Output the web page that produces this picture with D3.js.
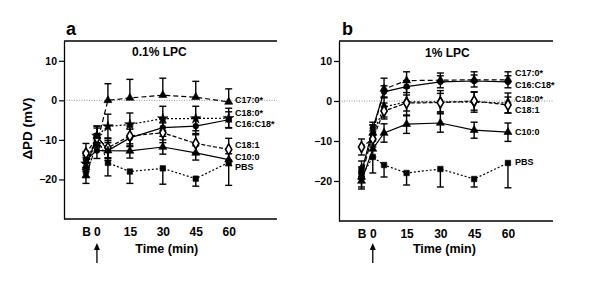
<!DOCTYPE html>
<html><head><meta charset="utf-8">
<script src="https://cdnjs.cloudflare.com/ajax/libs/d3/7.8.5/d3.min.js"></script>
<style>body{margin:0;background:#fff}svg{display:block;font-family:"Liberation Sans",Arial,sans-serif;font-weight:bold}</style>
</head><body><svg id="c" width="600" height="281"></svg>
<script>
// ---- data ----
const times = [-5, 0, 5, 15, 30, 45, 60];
const xTickValues = [-5, 0, 15, 30, 45, 60];
const xTickLabels = ["B", "0", "15", "30", "45", "60"];
const yTicks = [-20, -10, 0, 10];
const seriesNames = ["C17:0*", "C18:0*", "C16:C18*", "C18:1", "C10:0", "PBS"];
const panelTitles = ["0.1% LPC", "1% LPC"];
const panelLetters = ["a", "b"];

// panel a (0.1% LPC)
const aC17 = [-19, -11, 0, 0.6, 1.3, 0.8, -0.4];
const aC18_0 = [-16, -9, -6.6, -6.1, -4.6, -4.6, -4.5];
const aC16C18 = [-15, -12.7, -12.7, -9.5, -6.9, -6.5, -4.9];
const aC18_1 = [-13.4, -9.5, -12, -9, -8.2, -10.9, -12.4];
const aC10 = [-17, -9, -12.7, -12.8, -11.8, -13.3, -15];
const aPBS = [-18, -9, -15.8, -18, -17.2, -19.8, -15.7];
const aErrC17 = [2, 2.5, 4.2, 4.7, 4.3, 4.0, 3.3];
const aErrC18_0 = [2, 2.5, 3.1, 2.9, 3.1, 3.1, 2.5];
const aErrC16C18 = [2, 2, 2.5, 2.2, 2.2, 2.2, 2.0];
const aErrC18_1 = [2.5, 2.5, 2.5, 2.5, 2.5, 2.5, 2.8];
const aErrC10 = [2.5, 2.5, 2, 1.8, 1.8, 1.8, 1.5];
const aErrPBS = [3, 2.5, 3.3, 3, 4, 1.9, 5.8];

// panel b (1% LPC)
const bC17 = [-19, -8, 3, 5.1, 5.2, 5.3, 5.3];
const bC18_0 = [-17, -8.5, -1.5, -0.2, -0.2, -0.3, -0.5];
const bC16C18 = [-18, -6.8, 2.3, 3.6, 4.8, 5, 4.8];
const bC18_1 = [-11.5, -9.5, -2.5, -0.5, -0.4, 0, -1];
const bC10 = [-20, -12, -8, -5.8, -5.5, -7.3, -7.8];
const bPBS = [-19, -14, -16, -18, -17, -19.5, -15.5];
const bErrC17 = [1.5, 2, 2.7, 2.2, 1.8, 2, 2];
const bErrC18_0 = [2, 2.5, 2.5, 3.5, 2.8, 2.5, 2.5];
const bErrC16C18 = [1.5, 1.5, 1.5, 1.5, 1.5, 1.5, 1.5];
const bErrC18_1 = [2, 2, 2, 2, 2.3, 2.3, 2];
const bErrC10 = [2, 2, 2.3, 2.3, 2.3, 2, 2.3];
const bErrPBS = [2.5, 4, 3, 3, 4.5, 2, 6.2];

// ---- styles ----
const styleOf = {
  "C17:0*":   {dash: "5,3", sym: d3.symbolTriangle, size: 28, fill: "#000", err: "up"},
  "C18:0*":   {dash: "2,2", sym: d3.symbolStar, size: 34, fill: "#000", err: "both"},
  "C16:C18*": {dash: null, sym: d3.symbolCircle, size: 26, fill: "#000", err: "both"},
  "C18:1":    {dash: "4,2", sym: d3.symbolDiamond, size: 34, fill: "#fff", err: "both"},
  "C10:0":    {dash: null, sym: d3.symbolTriangle, size: 28, fill: "#000", err: "both"},
  "PBS":      {dash: "2,2", sym: d3.symbolSquare, size: 30, fill: "#000", err: "down"}
};

const panels = [
  {xDomain: [-15, 82], xRange: [64, 277], yRange: [219, 41], labelX: 235, yLabel: true,
   vals: [aC17, aC18_0, aC16C18, aC18_1, aC10, aPBS],
   errs: [aErrC17, aErrC18_0, aErrC16C18, aErrC18_1, aErrC10, aErrPBS],
   labelY: {"C17:0*": 100, "C18:0*": 112.5, "C16:C18*": 124, "C18:1": 145, "C10:0": 156.5, "PBS": 167},
   syms: {}},
  {xDomain: [-15, 80], xRange: [339, 553], yRange: [221, 41], labelX: 515, yLabel: false,
   vals: [bC17, bC18_0, bC16C18, bC18_1, bC10, bPBS],
   errs: [bErrC17, bErrC18_0, bErrC16C18, bErrC18_1, bErrC10, bErrPBS],
   labelY: {"C17:0*": 73, "C18:0*": 99, "C16:C18*": 84.5, "C18:1": 109.5, "C10:0": 132, "PBS": 162},
   syms: {"C18:0*": d3.symbolDiamond}}
];

const svg = d3.select("#c");
svg.append("rect").attr("width", 600).attr("height", 281).attr("fill", "#fff");

panels.forEach((p, pi) => {
  const x = d3.scaleLinear().domain(p.xDomain).range(p.xRange);
  const y = d3.scaleLinear().domain([-30, 15]).range(p.yRange);
  const g = svg.append("g");
  const x0 = p.xRange[0], x1 = p.xRange[1], yb = p.yRange[0], yt = p.yRange[1];

  // zero line
  g.append("line").attr("x1", x0).attr("x2", x1).attr("y1", y(0)).attr("y2", y(0))
    .attr("stroke", "#777").attr("stroke-width", 0.8).attr("stroke-dasharray", "1,1.5");
  // frame: top and bottom
  g.append("line").attr("x1", x0).attr("x2", x1).attr("y1", yt).attr("y2", yt).attr("stroke", "#000").attr("stroke-width", 1.3);
  g.append("line").attr("x1", x0).attr("x2", x1).attr("y1", yb).attr("y2", yb).attr("stroke", "#000").attr("stroke-width", 1.3);

  // y axis
  const ya = g.append("g").attr("transform", `translate(${x0},0)`)
    .call(d3.axisLeft(y).tickValues(yTicks).tickSize(5).tickSizeOuter(0).tickPadding(2));
  ya.select(".domain").attr("stroke-width", 1.3);
  ya.selectAll(".tick line").attr("stroke-width", 1.2);
  ya.selectAll("text").attr("font-size", 10.5).attr("font-weight", "bold").attr("font-family", "Liberation Sans, Arial, sans-serif");

  // x axis labels
  const xa = g.append("g").attr("transform", `translate(0,${yb})`)
    .call(d3.axisBottom(x).tickValues(xTickValues).tickSize(0).tickPadding(8)
      .tickFormat((d, i) => xTickLabels[i]));
  xa.select(".domain").remove();
  xa.selectAll("text").attr("font-size", 12).attr("font-weight", "bold").attr("font-family", "Liberation Sans, Arial, sans-serif");

  // x title
  g.append("text").attr("x", (x(0) + x(60)) / 2 + 4).attr("y", 252.5).attr("text-anchor", "middle")
    .attr("font-size", 12.5).text("Time (min)");
  // arrow
  g.append("line").attr("x1", x(0)).attr("x2", x(0)).attr("y1", 263).attr("y2", 248).attr("stroke", "#000").attr("stroke-width", 1.3);
  g.append("path").attr("d", `M${x(0)},243 L${x(0) - 3},250 L${x(0) + 3},250 Z`).attr("fill", "#000");

  // panel letter and title
  g.append("text").attr("x", pi === 0 ? 66 : 342).attr("y", 35).attr("font-size", 18).text(panelLetters[pi]);
  g.append("text").attr("x", pi === 0 ? 132 : 425).attr("y", pi === 0 ? 56 : 57).attr("font-size", 12).text(panelTitles[pi]);

  if (p.yLabel) {
    g.append("text").attr("transform", `translate(32,128.5) rotate(-90)`).attr("text-anchor", "middle")
      .attr("font-size", 13.5).text("ΔPD (mV)");
  }

  // lines
  seriesNames.forEach((name, si) => {
    const st = styleOf[name];
    const data = times.map((t, i) => [t, p.vals[si][i]]);
    g.append("path").datum(data)
      .attr("d", d3.line().x(d => x(d[0])).y(d => y(d[1])))
      .attr("fill", "none").attr("stroke", "#000").attr("stroke-width", 1.2)
      .attr("stroke-dasharray", st.dash);
  });
  // error bars
  seriesNames.forEach((name, si) => {
    const st = styleOf[name];
    times.forEach((t, i) => {
      const v = p.vals[si][i], e = p.errs[si][i];
      const hi = st.err === "down" ? v : v + e;
      const lo = st.err === "up" ? v : v - e;
      const cx = x(t);
      g.append("line").attr("x1", cx).attr("x2", cx).attr("y1", y(hi)).attr("y2", y(lo)).attr("stroke", "#000").attr("stroke-width", 1.4);
      if (st.err !== "down") g.append("line").attr("x1", cx - 3.5).attr("x2", cx + 3.5).attr("y1", y(hi)).attr("y2", y(hi)).attr("stroke", "#000").attr("stroke-width", 1.4);
      if (st.err !== "up") g.append("line").attr("x1", cx - 3.5).attr("x2", cx + 3.5).attr("y1", y(lo)).attr("y2", y(lo)).attr("stroke", "#000").attr("stroke-width", 1.4);
    });
  });
  // markers
  seriesNames.forEach((name, si) => {
    const st = styleOf[name];
    const sym = p.syms[name] || st.sym;
    times.forEach((t, i) => {
      g.append("path").attr("transform", `translate(${x(t)},${y(p.vals[si][i])})`)
        .attr("d", d3.symbol().type(sym).size(st.size)())
        .attr("fill", st.fill).attr("stroke", "#000").attr("stroke-width", st.fill === "#fff" ? 1.6 : 0.6);
    });
    g.append("text").attr("x", p.labelX).attr("y", p.labelY[name]).attr("dy", "0.35em")
      .attr("font-size", 9).text(name);
  });
});
</script></body></html>
